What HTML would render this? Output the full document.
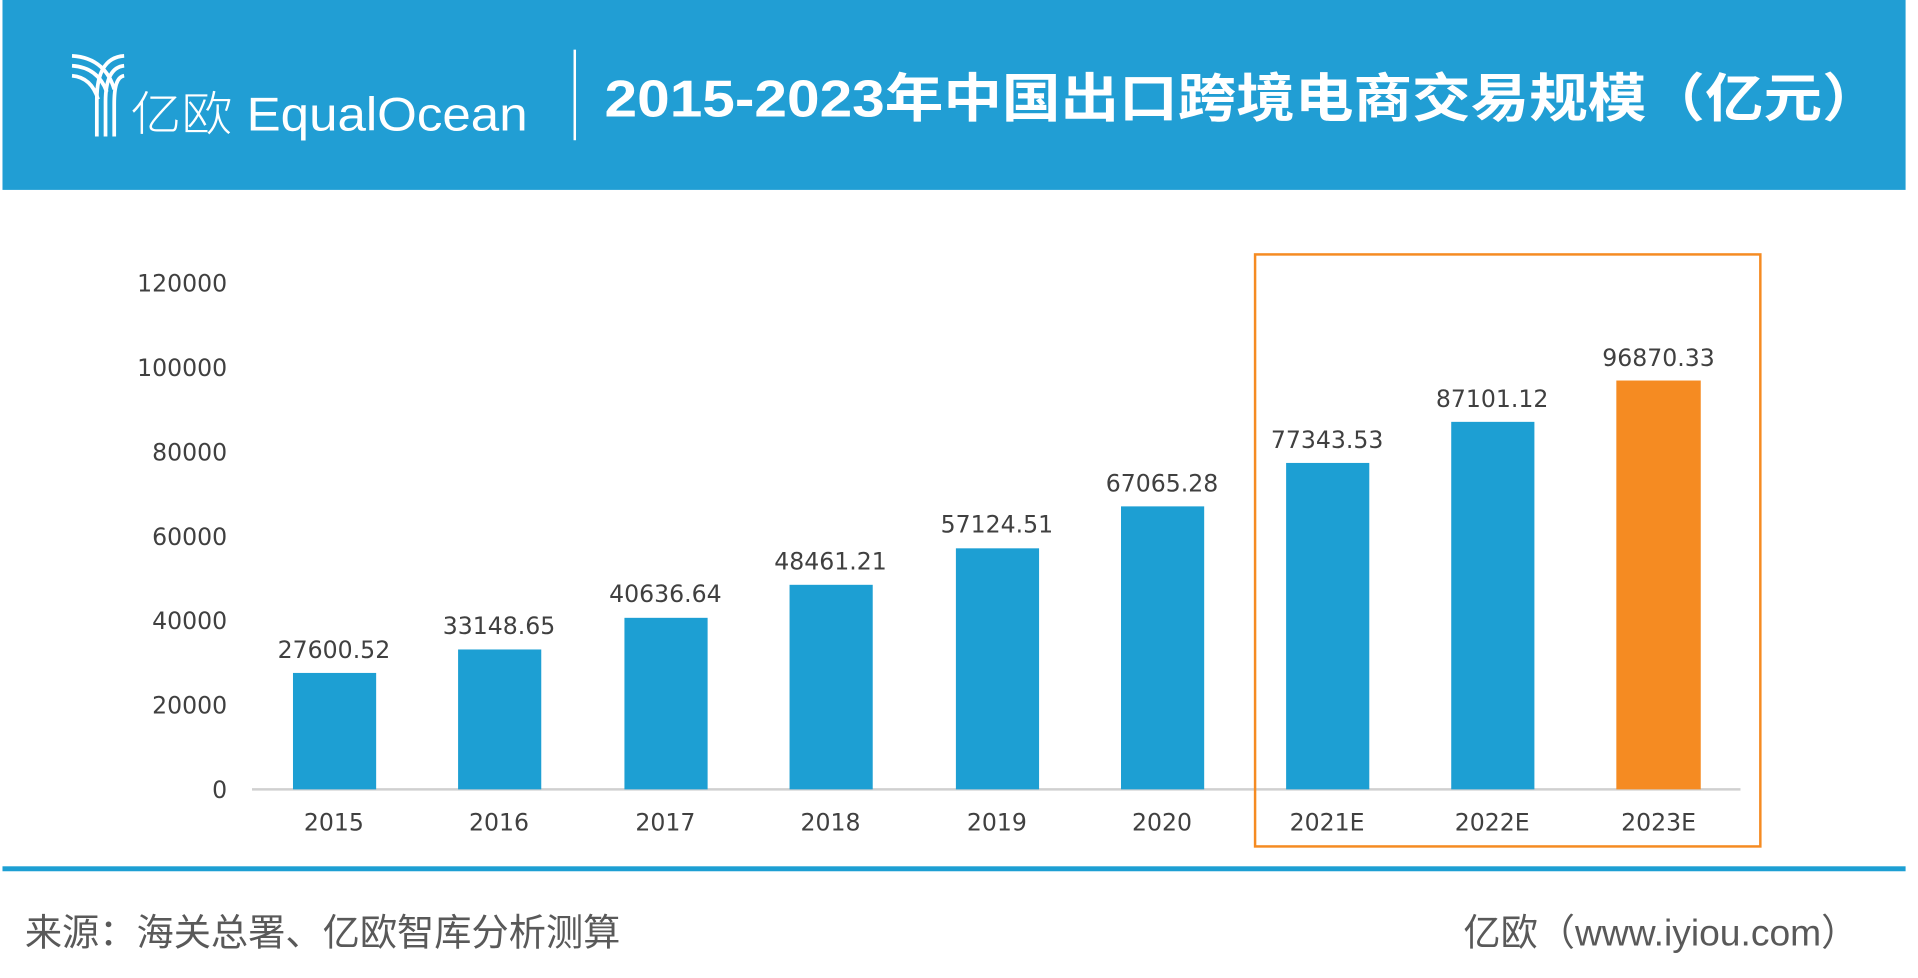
<!DOCTYPE html>
<html><head><meta charset="utf-8"><style>html,body{margin:0;padding:0;background:#fff;overflow:hidden}svg{display:block}</style></head>
<body>
<svg width="1918" height="978" viewBox="0 0 1545 788" preserveAspectRatio="none" xmlns="http://www.w3.org/2000/svg" font-family="'Liberation Sans','DejaVu Sans','Noto Sans CJK SC',sans-serif">
<rect x="2" y="0" width="1533" height="153" fill="#219ed4"/>
<g fill="none" stroke="#fff" stroke-width="3">
<path d="M58 45 C78 46 88 58 92 72"/><path d="M58 53 C74 54 82 63 86 74"/><path d="M58 61 C70 62 76 70 79 80"/>
<path d="M100 45 C84 46 78 60 78 80 L78 110"/><path d="M100 53 C90 54 85 64 85 82 L85 110"/><path d="M100 61 C94 62 92 70 92 84 L92 110"/>
</g>
<text x="105" y="105" font-size="38" fill="#fff" font-weight="300" textLength="320" lengthAdjust="spacingAndGlyphs">亿欧 EqualOcean</text>
<rect x="462" y="40" width="2" height="73" fill="#fff"/>
<text x="487" y="94" font-size="42" font-weight="bold" fill="#fff" textLength="1028" lengthAdjust="spacingAndGlyphs">2015-2023年中国出口跨境电商交易规模（亿元）</text>
<g font-size="19" fill="#404040" text-anchor="end" font-family="'DejaVu Sans',sans-serif">
<text x="183" y="235">120000</text><text x="183" y="303">100000</text><text x="183" y="371">80000</text><text x="183" y="439">60000</text><text x="183" y="507">40000</text><text x="183" y="575">20000</text><text x="183" y="643">0</text>
</g>
<line x1="203" y1="636" x2="1402" y2="636" stroke="#d0d0d0" stroke-width="2"/>
<g fill="#1d9fd3">
<rect x="236" y="542.2" width="67" height="93.8"/>
<rect x="369" y="523.3" width="67" height="112.7"/>
<rect x="503" y="497.8" width="67" height="138.2"/>
<rect x="636" y="471.2" width="67" height="164.8"/>
<rect x="770" y="441.8" width="67" height="194.2"/>
<rect x="903" y="408" width="67" height="228"/>
<rect x="1036" y="373" width="67" height="263"/>
<rect x="1169" y="339.9" width="67" height="296.1"/>
</g>
<rect x="1302" y="306.6" width="68" height="329.4" fill="#f58b22"/>
<g font-size="19" fill="#404040" text-anchor="middle" font-family="'DejaVu Sans',sans-serif">
<text x="269" y="530">27600.52</text><text x="402" y="511">33148.65</text><text x="536" y="485">40636.64</text><text x="669" y="459">48461.21</text><text x="803" y="429">57124.51</text><text x="936" y="396">67065.28</text><text x="1069" y="361">77343.53</text><text x="1202" y="328">87101.12</text><text x="1336" y="295">96870.33</text>
<text x="269" y="669">2015</text><text x="402" y="669">2016</text><text x="536" y="669">2017</text><text x="669" y="669">2018</text><text x="803" y="669">2019</text><text x="936" y="669">2020</text><text x="1069" y="669">2021E</text><text x="1202" y="669">2022E</text><text x="1336" y="669">2023E</text>
</g>
<rect x="1011" y="205" width="407" height="477" fill="none" stroke="#f58b22" stroke-width="2"/>
<rect x="2" y="698" width="1533" height="4" fill="#1d9fd3"/>
<text x="20" y="762" font-size="30" fill="#595959">来源：海关总署、亿欧智库分析测算</text>
<text x="1497" y="762" font-size="30" fill="#595959" text-anchor="end">亿欧（www.iyiou.com）</text>
</svg>
</body></html>
